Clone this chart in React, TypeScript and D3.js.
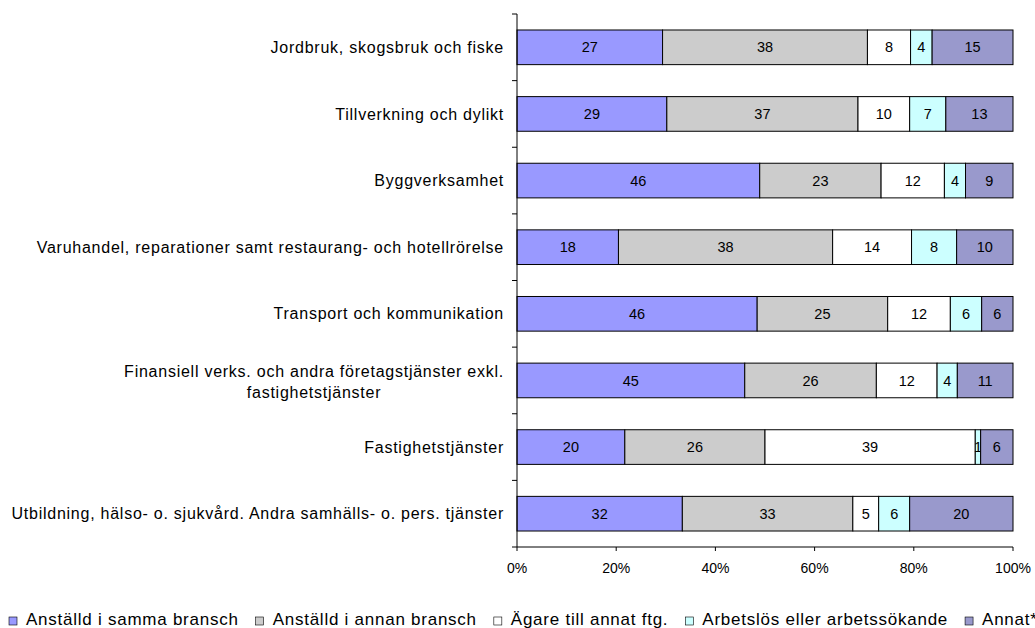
import { useEffect, useRef } from "react";
import * as d3 from "d3";

// Categories (top to bottom), "|" marks where the original label wraps
const categories = [
  "Jordbruk, skogsbruk och fiske",
  "Tillverkning och dylikt",
  "Byggverksamhet",
  "Varuhandel, reparationer samt restaurang- och hotellrörelse",
  "Transport och kommunikation",
  "Finansiell verks. och andra företagstjänster exkl.|fastighetstjänster",
  "Fastighetstjänster",
  "Utbildning, hälso- o. sjukvård. Andra samhälls- o. pers. tjänster",
];

const seriesNames = [
  "Anställd i samma bransch",
  "Anställd i annan bransch",
  "Ägare till annat ftg.",
  "Arbetslös eller arbetssökande",
  "Annat*",
];

const samma = [27, 29, 46, 18, 46, 45, 20, 32];
const annan = [38, 37, 23, 38, 25, 26, 26, 33];
const agare = [8, 10, 12, 14, 12, 12, 39, 5];
const arbetslos = [4, 7, 4, 8, 6, 4, 1, 6];
const annat = [15, 13, 9, 10, 6, 11, 6, 20];

const xTicks = [0, 0.2, 0.4, 0.6, 0.8, 1];

const colors = ["#9999ff", "#cccccc", "#ffffff", "#ccffff", "#9999cc"];

const App = () => {
  const svgRef = useRef<SVGSVGElement | null>(null);

  useEffect(() => {
    if (!svgRef.current) return;
    const width = 1035;
    const height = 628;
    const left = 517;
    const right = 1013;
    const top = 14;
    const bottom = 547;

    const svg = d3.select(svgRef.current);
    svg.selectAll("*").remove();
    svg.attr("width", width).attr("height", height);

    const allSeries = [samma, annan, agare, arbetslos, annat];
    const rows = categories.map((c, i) => {
      const r: any = { cat: c };
      allSeries.forEach((s, si) => (r["s" + si] = s[i]));
      return r;
    });
    const keys = allSeries.map((_, si) => "s" + si);
    const stacked = d3.stack<any>().keys(keys).offset(d3.stackOffsetExpand)(rows);

    const x = d3.scaleLinear().domain([0, 1]).range([left, right]);
    const y = d3
      .scaleBand()
      .domain(categories)
      .range([top, bottom])
      .paddingInner(0.48)
      .paddingOuter(0.24);

    const font = "Liberation Sans, Arial, sans-serif";

    // stacked bars with value labels
    stacked.forEach((layer, si) => {
      const g = svg.append("g");
      layer.forEach((d, i) => {
        const x0 = x(d[0]);
        const x1 = x(d[1]);
        const yy = y(categories[i])!;
        g.append("rect")
          .attr("x", x0)
          .attr("y", yy)
          .attr("width", x1 - x0)
          .attr("height", y.bandwidth())
          .attr("fill", colors[si])
          .attr("stroke", "#000")
          .attr("stroke-width", 1);
        g.append("text")
          .attr("x", (x0 + x1) / 2)
          .attr("y", yy + y.bandwidth() / 2)
          .attr("dy", "0.35em")
          .attr("text-anchor", "middle")
          .attr("font-family", font)
          .attr("font-size", 14.5)
          .attr("fill", "#000")
          .text(allSeries[si][i]);
      });
    });

    // left axis line, ticks at band boundaries
    const step = y.step();
    svg
      .append("line")
      .attr("x1", left)
      .attr("x2", left)
      .attr("y1", top)
      .attr("y2", bottom)
      .attr("stroke", "#000");
    d3.range(categories.length + 1).forEach((i) => {
      const yy = top + i * step;
      svg
        .append("line")
        .attr("x1", left - 5)
        .attr("x2", left)
        .attr("y1", yy)
        .attr("y2", yy)
        .attr("stroke", "#000");
    });

    // category labels
    const labelX = 504;
    const addLabel = (tx: number, ty: number, anchor: string, s: string) =>
      svg
        .append("text")
        .attr("x", tx)
        .attr("y", ty)
        .attr("dy", "0.35em")
        .attr("text-anchor", anchor)
        .attr("font-family", font)
        .attr("font-size", 16)
        .attr("letter-spacing", "0.75px")
        .attr("fill", "#000")
        .text(s);
    categories.forEach((c) => {
      const lines = c.split("|");
      const cy = y(c)! + y.bandwidth() / 2;
      if (lines.length === 1) {
        addLabel(labelX, cy, "end", c);
      } else {
        const t1 = addLabel(labelX, cy - 9, "end", lines[0]);
        const w = (t1.node() as SVGTextElement).getComputedTextLength();
        addLabel(labelX - w / 2, cy + 12, "middle", lines[1]);
      }
    });

    // bottom axis
    svg
      .append("line")
      .attr("x1", left)
      .attr("x2", right)
      .attr("y1", bottom)
      .attr("y2", bottom)
      .attr("stroke", "#000");
    xTicks.forEach((t) => {
      svg
        .append("line")
        .attr("x1", x(t))
        .attr("x2", x(t))
        .attr("y1", bottom)
        .attr("y2", bottom + 4)
        .attr("stroke", "#000");
      svg
        .append("text")
        .attr("x", x(t))
        .attr("y", bottom + 21)
        .attr("dy", "0.35em")
        .attr("text-anchor", "middle")
        .attr("font-family", font)
        .attr("font-size", 14)
        .attr("fill", "#000")
        .text(d3.format(".0%")(t));
    });

    // legend, laid out left to right
    let lx = 9;
    seriesNames.forEach((n, i) => {
      svg
        .append("rect")
        .attr("x", lx)
        .attr("y", 617)
        .attr("width", 8)
        .attr("height", 8)
        .attr("fill", colors[i])
        .attr("stroke", "#000")
        .attr("stroke-width", 0.6);
      const t = svg
        .append("text")
        .attr("x", lx + 17)
        .attr("y", 625)
        .attr("font-family", font)
        .attr("font-size", 17)
        .attr("letter-spacing", "0.75px")
        .attr("fill", "#000")
        .text(n);
      const w = (t.node() as SVGTextElement).getComputedTextLength();
      lx = lx + 17 + w + 17;
    });
  }, []);

  return <svg ref={svgRef} style={{ position: "absolute", left: 0, top: 0 }}></svg>;
};

export default App;
